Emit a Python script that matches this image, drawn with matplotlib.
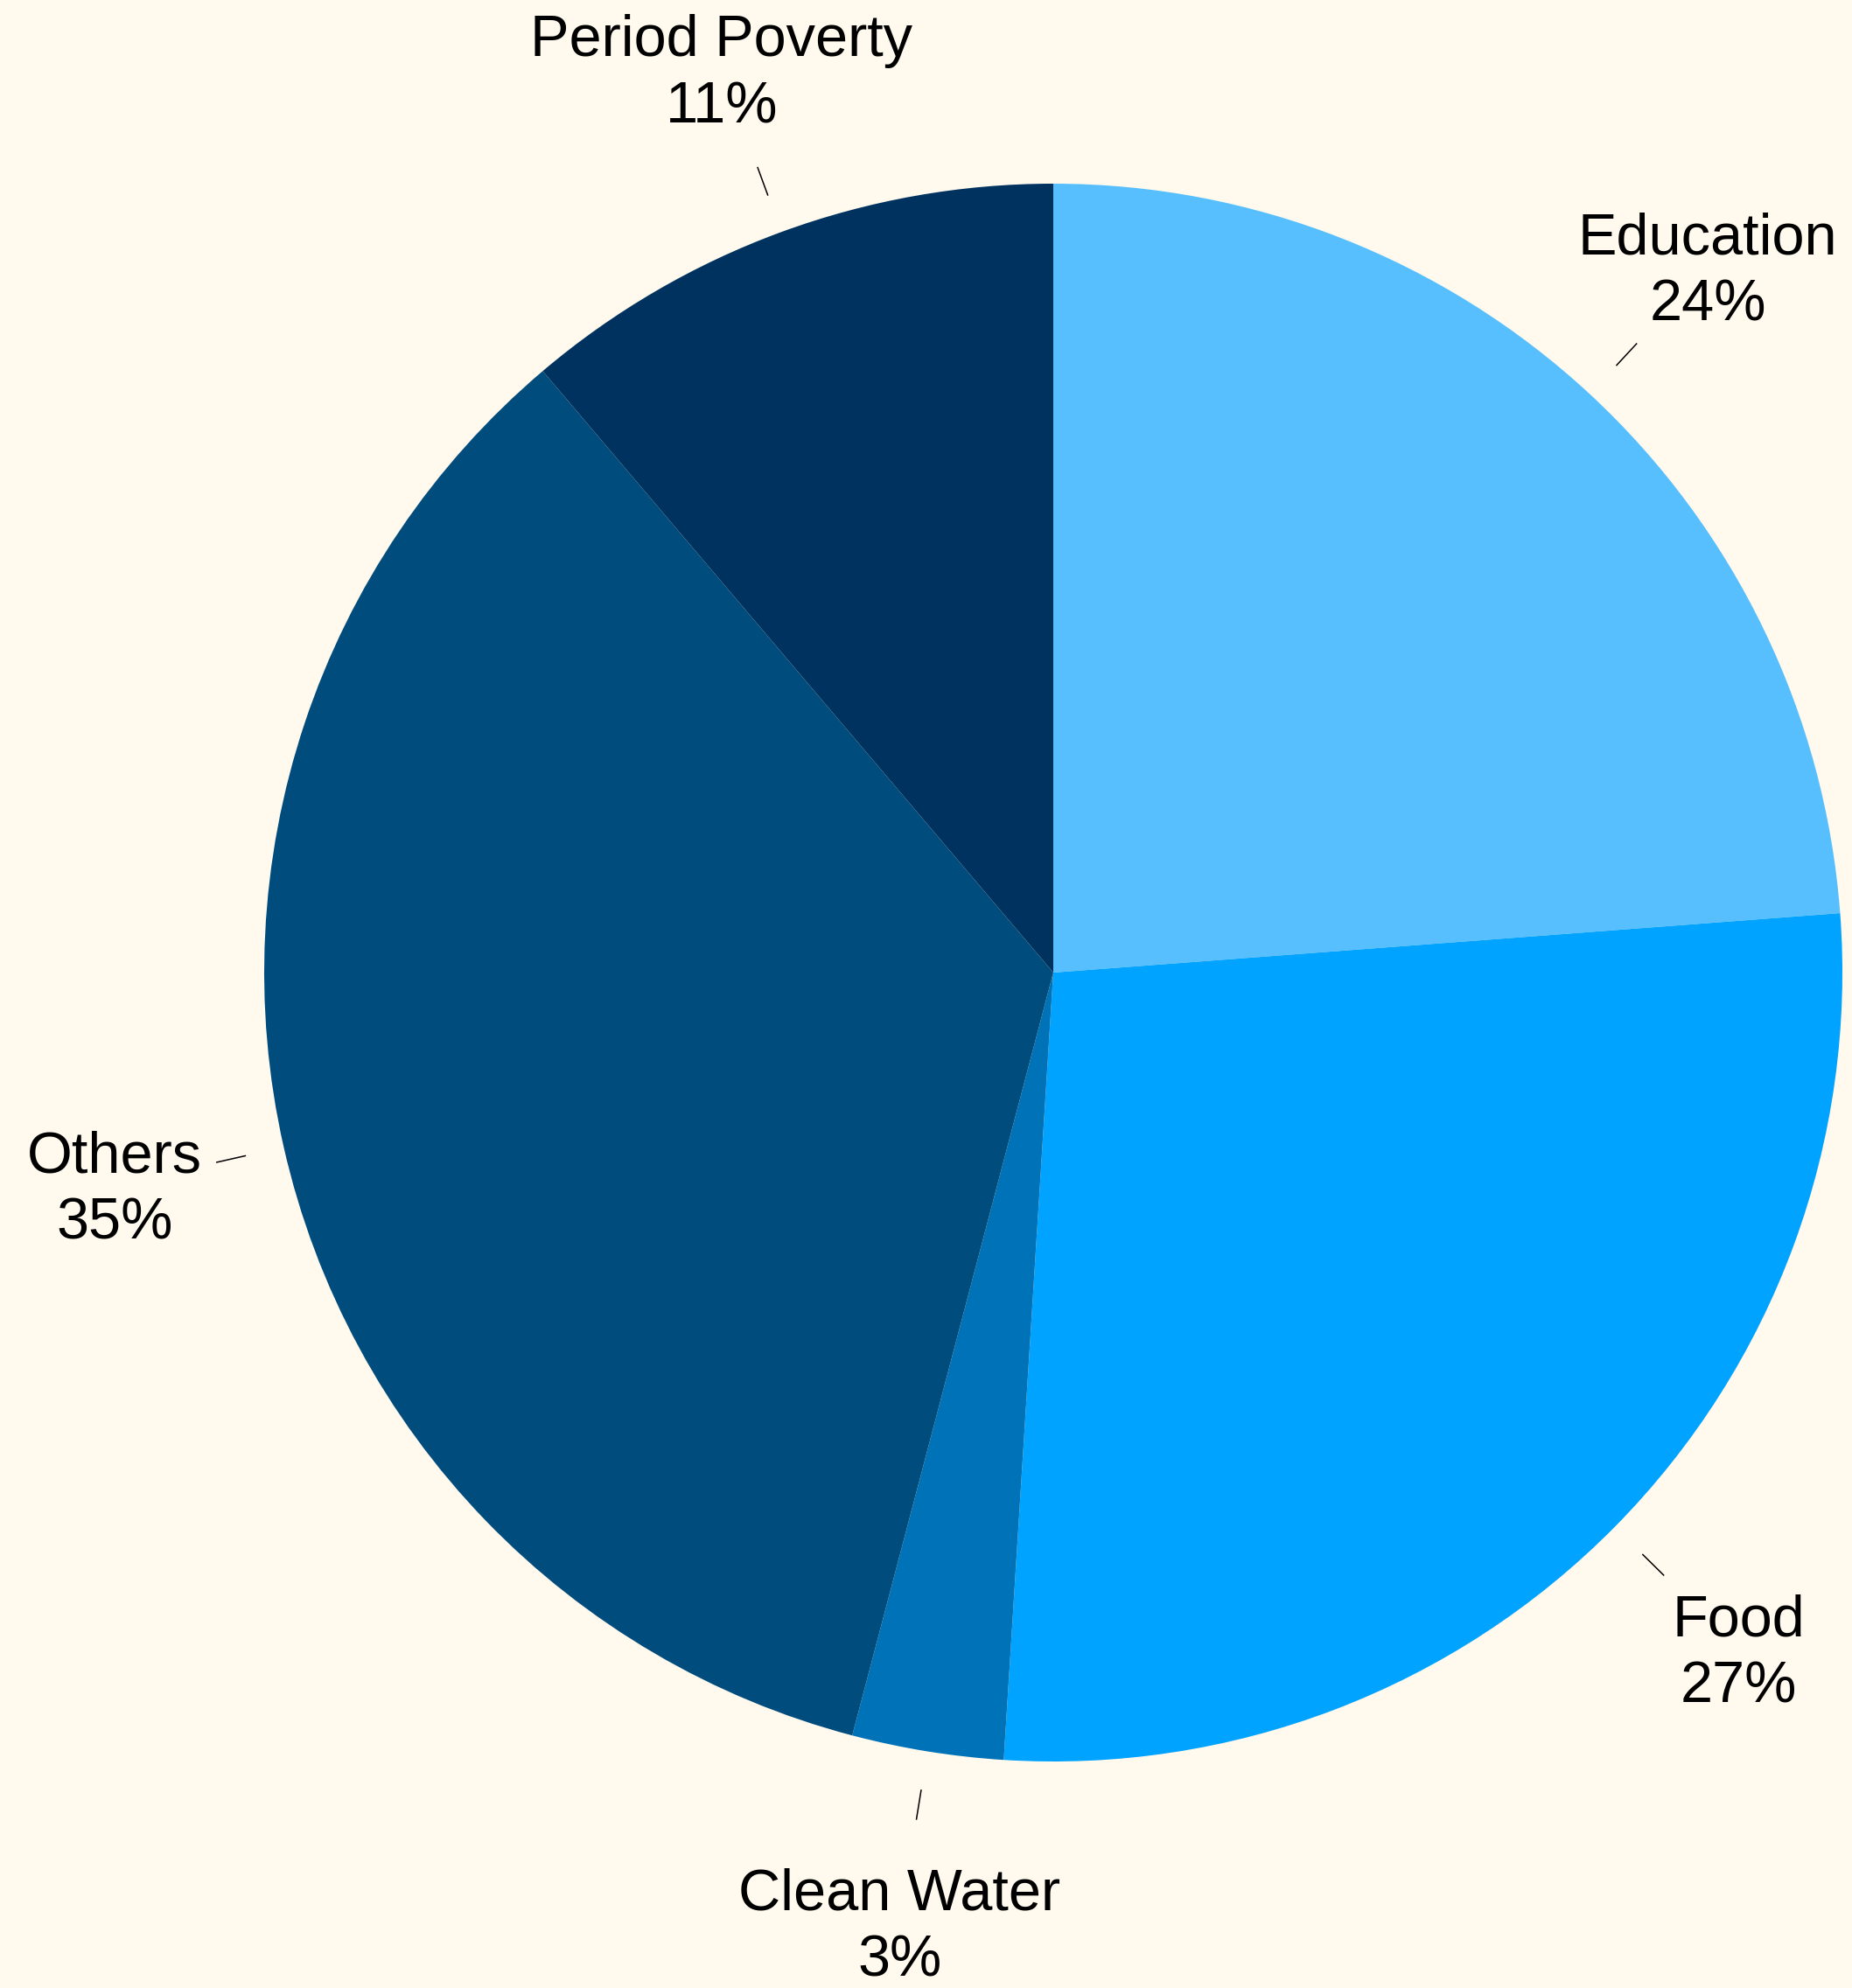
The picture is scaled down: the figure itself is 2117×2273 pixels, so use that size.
import numpy as np
import matplotlib
matplotlib.use("Agg")
import matplotlib.pyplot as plt

categories = ["Education", "Food", "Clean Water", "Others", "Period Poverty"]
values = [23.8, 27.2, 3.1, 34.7, 11.2]
colors = ["#58BFFF", "#00A3FF", "#0073B8", "#004C7D", "#00325F"]

bg = "#FFF9EE"
plt.rcParams["font.family"] = ["Liberation Sans", "DejaVu Sans"]

W, H = 2117, 2273
fig = plt.figure(figsize=(W / 100, H / 100), dpi=100, facecolor=bg)
cx, cy, R = 1204, 1112, 902
ax = fig.add_axes([(cx - R) / W, (H - cy - R) / H, 2 * R / W, 2 * R / H])
ax.set_facecolor(bg)

wedges, _ = ax.pie(values, colors=colors, startangle=90, counterclock=False,
                   radius=1, wedgeprops=dict(linewidth=0))
ax.set_xlim(-1, 1)
ax.set_ylim(-1, 1)
ax.set_aspect("equal")
ax.axis("off")

total = sum(values)
for w, cat, v in zip(wedges, categories, values):
    ang = np.deg2rad((w.theta1 + w.theta2) / 2)
    dx, dy = np.cos(ang), np.sin(ang)
    ax.plot([1.05 * dx, 1.087 * dx], [1.05 * dy, 1.087 * dy], color="black",
            lw=1.1, clip_on=False)
    ax.annotate(f"{cat}\n{round(100 * v / total)}%", xy=(1.22 * dx, 1.22 * dy),
                xytext=(0, -4.5), textcoords="offset points",
                ha="center", va="center", fontsize=48, linespacing=1.3,
                color="black", annotation_clip=False)

fig.savefig("out.png", dpi=100, facecolor=bg)
